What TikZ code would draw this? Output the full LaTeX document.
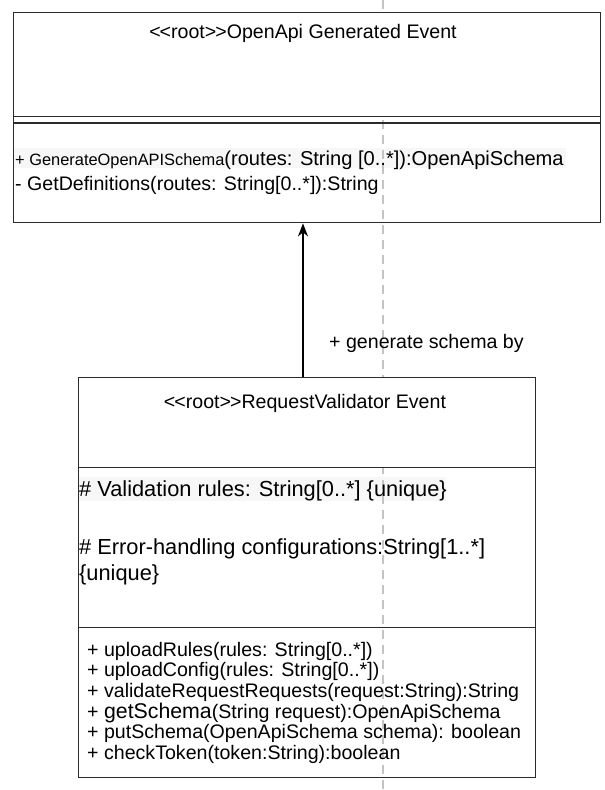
\documentclass[tikz,border=0pt]{standalone}
\usepackage{fontspec}
\setmainfont{Liberation Sans}
\usetikzlibrary{arrows.meta,calc}
\definecolor{boxc}{HTML}{2B2B2B}
\definecolor{guidec}{HTML}{C4C4C4}
\definecolor{hlc}{HTML}{F7F7F7}
\newcommand{\fmain}{\fontsize{19.6pt}{23pt}\selectfont}
\newcommand{\fmainb}{\fontsize{20.1pt}{23pt}\selectfont}
\newcommand{\fsmall}{\fontsize{16.4pt}{19pt}\selectfont}
\newcommand{\fattr}{\fontsize{21.8pt}{25pt}\selectfont}
\newcommand{\fbig}{\fontsize{21.3pt}{25pt}\selectfont}
\newcommand{\stereo}{<\kern-1pt<root>\kern-1pt>}
\begin{document}
\begin{tikzpicture}[x=1pt,y=-1pt,
  compartment/.style={draw=boxc, line width=1.4pt, inner sep=0pt, anchor=north west},
  titlebox/.style={compartment, fill=white},
  wtxt/.style={inner sep=0pt, anchor=west, text height=14pt, text depth=0pt},
  atxt/.style={inner sep=0pt, anchor=west, text height=15.6pt, text depth=0pt},
  ctxt/.style={inner sep=0pt, anchor=center, text height=14pt, text depth=0pt},
  guide/.style={draw=guidec, line width=2pt, dash pattern=on 9pt off 6pt},
  hl/.style={fill=hlc, draw=none, inner sep=0pt, anchor=north west},
  assoc/.style={draw=black, line width=1.5pt, -{Stealth[length=13pt,width=10pt,inset=4pt]}}
]
\useasboundingbox (0,0) rectangle (605,790);
\fill[white] (0,0) rectangle (605,790);

% faint highlights behind two text lines
\node[hl, minimum width=552pt, minimum height=20pt] (hl1) at (14,148) {};
\node[hl, minimum width=368pt, minimum height=24pt] (hl2) at (78,477) {};

% dashed guide line
\coordinate (gtop) at (382.5,0);
\coordinate (gbot) at (382.5,790);
\draw[guide] (gtop) -- (gbot);

% OpenApi Generated Event
\node[titlebox, minimum width=587pt, minimum height=104pt] (oat) at (13,12) {};
\node[compartment, minimum width=587pt, minimum height=106pt] (oab) at (13,116) {};
\draw[draw=boxc, line width=1.4pt] ([yshift=-7pt]oab.north west) -- ([yshift=-7pt]oab.north east);
\node[ctxt, font=\fmain] (oaname) at (303,31) {\stereo OpenApi Generated Event};
\node[wtxt, font=\fmainb] (oam1) at (15,158) {{\fsmall + GenerateOpenAPISchema}(routes: String [0..*]):OpenApiSchema};
\node[wtxt, font=\fmain] (oam2) at (15,183) {- GetDefinitions(routes: String[0..*]):String};

% RequestValidator Event
\node[titlebox, minimum width=457pt, minimum height=90pt] (rvt) at (78,377) {};
\node[compartment, minimum width=457pt, minimum height=160pt] (rva) at (78,467) {};
\node[compartment, minimum width=457pt, minimum height=150pt] (rvm) at (78,627) {};
\node[ctxt, font=\fmain] (rvname) at (305,401) {\stereo RequestValidator Event};
\node[atxt, font=\fattr] (rva1) at (79,489) {\# Validation rules: String[0..*] \{unique\}};
\node[atxt, font=\fattr] (rva2) at (79,547) {\# Error-handling configurations:String[1..*]};
\node[atxt, font=\fattr] (rva3) at (79,573) {\{unique\}};
\node[wtxt, font=\fmain] (rvm1) at (87,649) {+ uploadRules(rules: String[0..*])};
\node[wtxt, font=\fmain] (rvm2) at (87,669.5) {+ uploadConfig(rules: String[0..*])};
\node[wtxt, font=\fmain] (rvm3) at (87,690) {+ validateRequestRequests(request:String):String};
\node[wtxt, font=\fmain] (rvm4) at (87,711) {+ {\fbig getSchema}(String request):OpenApiSchema};
\node[wtxt, font=\fmain] (rvm5) at (87,731) {+ putSchema(OpenApiSchema schema): boolean};
\node[wtxt, font=\fmain] (rvm6) at (87,752) {+ checkToken(token:String):boolean};

% association
\coordinate (ax) at (303,0);
\draw[assoc] (rvt.north -| ax) -- (oab.south -| ax);
\node[wtxt, font=\fmain] (alabel) at (329,341) {+ generate schema by};
\end{tikzpicture}
\end{document}
